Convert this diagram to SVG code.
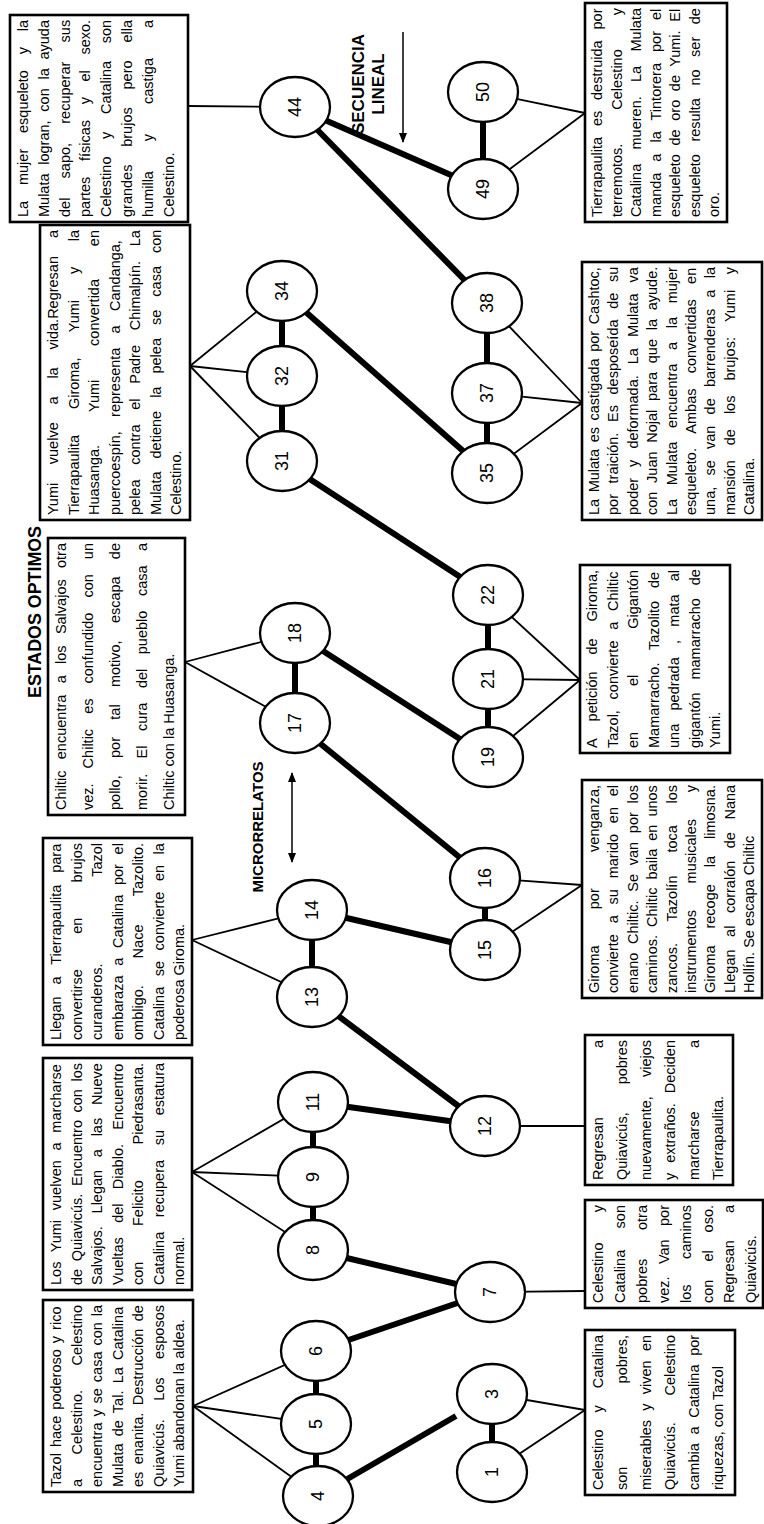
<svg xmlns="http://www.w3.org/2000/svg" width="764" height="1524" viewBox="0 0 764 1524">
<style>
text{font-family:"Liberation Sans",Arial,sans-serif;fill:#000}
.t{font-size:14.5px}
.e{text-anchor:end}
.n{font-size:18px;text-anchor:middle}
.h{font-weight:bold;text-anchor:middle}
.bx{fill:#fff;stroke:#000;stroke-width:2.6}
.c{stroke:#000;stroke-width:1.8;fill:none}
.k{stroke:#000;stroke-width:6;fill:none}
.nd{fill:#fff;stroke:#000;stroke-width:2.3}
</style>
<defs>
<marker id="ah" markerWidth="10" markerHeight="8" refX="9" refY="4" orient="auto-start-reverse" markerUnits="userSpaceOnUse"><path d="M0,0 L10,4 L0,8 z" fill="#000"/></marker>
</defs>
<rect x="0" y="0" width="764" height="1524" fill="#fff"/>
<g transform="translate(0,1524) rotate(-90)">

<g id="connectors">
<g class="c">
<line x1="1418" y1="188" x2="1417" y2="295"/>
<line x1="1158" y1="190" x2="1233" y2="282"/>
<line x1="1158" y1="190" x2="1148" y2="282"/>
<line x1="1158" y1="190" x2="1063" y2="282"/>
<line x1="862" y1="185" x2="891" y2="295"/>
<line x1="862" y1="185" x2="801" y2="295"/>
<line x1="584" y1="192" x2="614" y2="312"/>
<line x1="584" y1="192" x2="527" y2="313"/>
<line x1="352" y1="192" x2="422" y2="313"/>
<line x1="352" y1="192" x2="347" y2="313"/>
<line x1="352" y1="192" x2="274" y2="313"/>
<line x1="118" y1="193" x2="173" y2="316"/>
<line x1="118" y1="193" x2="100" y2="316"/>
<line x1="118" y1="193" x2="28" y2="318"/>
<line x1="1411" y1="585" x2="1432" y2="483"/>
<line x1="1411" y1="585" x2="1335" y2="483"/>
<line x1="1121" y1="582" x2="1221" y2="487"/>
<line x1="1121" y1="582" x2="1131" y2="487"/>
<line x1="1121" y1="582" x2="1051" y2="488"/>
<line x1="844" y1="580" x2="929" y2="488"/>
<line x1="844" y1="580" x2="845" y2="488"/>
<line x1="844" y1="580" x2="767" y2="488"/>
<line x1="639" y1="582" x2="646" y2="485"/>
<line x1="639" y1="582" x2="574" y2="485"/>
<line x1="398" y1="585" x2="398" y2="485"/>
<line x1="233" y1="585" x2="232" y2="490"/>
<line x1="114" y1="585" x2="130" y2="492"/>
<line x1="114" y1="585" x2="52" y2="492"/>
</g>
<g class="k">
<line x1="28" y1="316" x2="173" y2="316"/>
<line x1="52" y1="492" x2="130" y2="492"/>
<line x1="274" y1="313" x2="422" y2="313"/>
<line x1="527" y1="312" x2="614" y2="312"/>
<line x1="574" y1="485" x2="646" y2="485"/>
<line x1="801" y1="295" x2="891" y2="295"/>
<line x1="767" y1="488" x2="929" y2="488"/>
<line x1="1063" y1="282" x2="1233" y2="282"/>
<line x1="1051" y1="487" x2="1221" y2="487"/>
<line x1="1335" y1="483" x2="1432" y2="483"/>
<line x1="28" y1="318" x2="108" y2="456"/>
<line x1="173" y1="316" x2="232" y2="490"/>
<line x1="274" y1="313" x2="232" y2="490"/>
<line x1="422" y1="313" x2="398" y2="485"/>
<line x1="527" y1="313" x2="398" y2="485"/>
<line x1="614" y1="312" x2="574" y2="485"/>
<line x1="801" y1="295" x2="646" y2="485"/>
<line x1="891" y1="295" x2="767" y2="488"/>
<line x1="1063" y1="282" x2="929" y2="488"/>
<line x1="1233" y1="282" x2="1051" y2="488"/>
<line x1="1417" y1="295" x2="1221" y2="487"/>
<line x1="1417" y1="295" x2="1335" y2="483"/>
</g>
</g>

<g id="n4"><ellipse class="nd" cx="28" cy="318" rx="30" ry="35"/><text class="n" x="28" y="324">4</text></g>
<g id="n5"><ellipse class="nd" cx="100" cy="316" rx="30" ry="35"/><text class="n" x="100" y="322">5</text></g>
<g id="n6"><ellipse class="nd" cx="173" cy="316" rx="30" ry="35"/><text class="n" x="173" y="322">6</text></g>
<g id="n1"><ellipse class="nd" cx="52" cy="492" rx="30" ry="35"/><text class="n" x="52" y="498">1</text></g>
<g id="n3"><ellipse class="nd" cx="130" cy="492" rx="30" ry="35"/><text class="n" x="130" y="498">3</text></g>
<g id="n7"><ellipse class="nd" cx="232" cy="490" rx="30" ry="35"/><text class="n" x="232" y="496">7</text></g>
<g id="n8"><ellipse class="nd" cx="274" cy="313" rx="30" ry="35"/><text class="n" x="274" y="319">8</text></g>
<g id="n9"><ellipse class="nd" cx="347" cy="313" rx="30" ry="35"/><text class="n" x="347" y="319">9</text></g>
<g id="n11"><ellipse class="nd" cx="422" cy="313" rx="30" ry="35"/><text class="n" x="422" y="319">11</text></g>
<g id="n12"><ellipse class="nd" cx="398" cy="485" rx="30" ry="35"/><text class="n" x="398" y="491">12</text></g>
<g id="n13"><ellipse class="nd" cx="527" cy="312" rx="30" ry="35"/><text class="n" x="527" y="318">13</text></g>
<g id="n14"><ellipse class="nd" cx="614" cy="312" rx="30" ry="35"/><text class="n" x="614" y="318">14</text></g>
<g id="n15"><ellipse class="nd" cx="574" cy="485" rx="30" ry="35"/><text class="n" x="574" y="491">15</text></g>
<g id="n16"><ellipse class="nd" cx="646" cy="485" rx="30" ry="35"/><text class="n" x="646" y="491">16</text></g>
<g id="n17"><ellipse class="nd" cx="801" cy="295" rx="30" ry="35"/><text class="n" x="801" y="301">17</text></g>
<g id="n18"><ellipse class="nd" cx="891" cy="295" rx="30" ry="35"/><text class="n" x="891" y="301">18</text></g>
<g id="n19"><ellipse class="nd" cx="767" cy="488" rx="30" ry="35"/><text class="n" x="767" y="494">19</text></g>
<g id="n21"><ellipse class="nd" cx="845" cy="488" rx="30" ry="35"/><text class="n" x="845" y="494">21</text></g>
<g id="n22"><ellipse class="nd" cx="929" cy="488" rx="30" ry="35"/><text class="n" x="929" y="494">22</text></g>
<g id="n31"><ellipse class="nd" cx="1063" cy="282" rx="30" ry="35"/><text class="n" x="1063" y="288">31</text></g>
<g id="n32"><ellipse class="nd" cx="1148" cy="282" rx="30" ry="35"/><text class="n" x="1148" y="288">32</text></g>
<g id="n34"><ellipse class="nd" cx="1233" cy="282" rx="30" ry="35"/><text class="n" x="1233" y="288">34</text></g>
<g id="n35"><ellipse class="nd" cx="1051" cy="487" rx="30" ry="35"/><text class="n" x="1051" y="493">35</text></g>
<g id="n37"><ellipse class="nd" cx="1131" cy="487" rx="30" ry="35"/><text class="n" x="1131" y="493">37</text></g>
<g id="n38"><ellipse class="nd" cx="1221" cy="487" rx="30" ry="35"/><text class="n" x="1221" y="493">38</text></g>
<g id="n44"><ellipse class="nd" cx="1417" cy="295" rx="30" ry="35"/><text class="n" x="1417" y="301">44</text></g>
<g id="n49"><ellipse class="nd" cx="1335" cy="483" rx="30" ry="35"/><text class="n" x="1335" y="489">49</text></g>
<g id="n50"><ellipse class="nd" cx="1432" cy="483" rx="30" ry="35"/><text class="n" x="1432" y="489">50</text></g>

<g id="boxA" class="t">
<rect class="bx" x="1302" y="10" width="207" height="178"/>
<text x="1307" y="28" style="word-spacing:11.8px">La mujer esqueleto y la</text>
<text x="1307" y="48.8" style="word-spacing:4.7px">Mulata logran, con la ayuda</text>
<text x="1307" y="69.6" style="word-spacing:15.2px">del sapo, recuperar sus</text>
<text x="1307" y="90.4" style="word-spacing:11.6px">partes físicas y el sexo.</text>
<text x="1307" y="111.2" style="word-spacing:13.6px">Celestino y Catalina son</text>
<text x="1307" y="132" style="word-spacing:13.8px">grandes brujos pero ella</text>
<text x="1307" y="152.8" style="word-spacing:25.9px">humilla y castiga a</text>
<text x="1307" y="173.6">Celestino.</text>
</g>

<g id="boxB" class="t">
<rect class="bx" x="1004" y="40" width="295" height="150"/>
<text x="1009" y="58">Yumi</text><text x="1059.8" y="58">vuelve</text><text x="1119.5" y="58">a</text><text x="1145.4" y="58">la</text><text x="1174.5" y="58">vida.Regresan</text><text class="e" x="1294" y="58">a</text>
<text x="1009" y="78.5">Tierrapaulita</text><text x="1114.9" y="78.5">Giroma,</text><text x="1191.8" y="78.5">Yumi</text><text x="1250.1" y="78.5">y</text><text class="e" x="1294" y="78.5">la</text>
<text x="1009" y="99">Huasanga.</text><text x="1112.1" y="99">Yumi</text><text x="1178.1" y="99">convertida</text><text class="e" x="1294" y="99">en</text>
<text x="1009" y="119.5" style="word-spacing:10.2px">puercoespín, representa a Candanga,</text>
<text x="1009" y="140" style="word-spacing:10.7px">pelea contra el Padre Chimalpín. La</text>
<text x="1009" y="160.5" style="word-spacing:9px">Mulata detiene la pelea se casa con</text>
<text x="1009" y="181">Celestino.</text>
</g>

<g id="boxC" class="t">
<rect class="bx" x="709" y="48" width="277" height="137"/>
<text x="714" y="66" style="word-spacing:7.3px">Chiltic encuentra a los Salvajos otra</text>
<text x="714" y="93" style="word-spacing:11px">vez. Chiltic es confundido con un</text>
<text x="714" y="120">pollo,</text><text x="766" y="120">por</text><text x="804.3" y="120">tal</text><text x="836.9" y="120">motivo,</text><text x="900.9" y="120">escapa</text><text class="e" x="981" y="120">de</text>
<text x="714" y="147">morir.</text><text x="765.6" y="147">El</text><text x="793.1" y="147">cura</text><text x="835.9" y="147">del</text><text x="869.8" y="147">pueblo</text><text x="927.9" y="147">casa</text><text class="e" x="981" y="147">a</text>
<text x="714" y="174">Chiltic con la Huasanga.</text>
</g>

<g id="boxD" class="t">
<rect class="bx" x="479" y="43" width="207" height="149"/>
<text x="484" y="61" style="word-spacing:7.9px">Llegan a Tierrapaulita para</text>
<text x="484" y="81.5">convertirse</text><text x="590.2" y="81.5">en</text><text class="e" x="681" y="81.5">brujos</text>
<text x="484" y="102">curanderos.</text><text class="e" x="681" y="102">Tazol</text>
<text x="484" y="122.5" style="word-spacing:5.7px">embaraza a Catalina por el</text>
<text x="484" y="143">ombligo.</text><text x="565.6" y="143">Nace</text><text class="e" x="681" y="143">Tazolito.</text>
<text x="484" y="163.5" style="word-spacing:6.5px">Catalina se convierte en la</text>
<text x="484" y="184">poderosa Giroma.</text>
</g>

<g id="boxE" class="t">
<rect class="bx" x="234" y="43" width="232" height="149"/>
<text x="239" y="61" style="word-spacing:5.7px">Los Yumi vuelven a marcharse</text>
<text x="239" y="81.5" style="word-spacing:3.5px">de Quiavicús. Encuentro con los</text>
<text x="239" y="102" style="word-spacing:8.7px">Salvajos. Llegan a las Nueve</text>
<text x="239" y="122.5" style="word-spacing:10.3px">Vueltas del Diablo. Encuentro</text>
<text x="239" y="143">con</text><text x="298" y="143">Felicito</text><text class="e" x="461" y="143">Piedrasanta.</text>
<text x="239" y="163.5" style="word-spacing:10.6px">Catalina recupera su estatura</text>
<text x="239" y="184">normal.</text>
</g>

<g id="boxF" class="t">
<rect class="bx" x="32" y="43" width="192" height="150"/>
<text x="37" y="61" style="word-spacing:2px">Tazol hace poderoso y rico</text>
<text x="37" y="81.5">a</text><text x="69.6" y="81.5">Celestino.</text><text class="e" x="219" y="81.5">Celestino</text>
<text x="37" y="102" style="word-spacing:1.9px">encuentra y se casa con la</text>
<text x="37" y="122.5" style="word-spacing:3.2px">Mulata de Tal. La Catalina</text>
<text x="37" y="143" style="word-spacing:3.4px">es enanita. Destrucción de</text>
<text x="37" y="163.5">Quiavicús.</text><text x="123.2" y="163.5">Los</text><text class="e" x="219" y="163.5">esposos</text>
<text x="37" y="184">Yumi abandonan la aldea.</text>
</g>

<g id="boxG" class="t">
<rect class="bx" x="1302" y="585" width="219" height="142"/>
<text x="1307" y="602" style="word-spacing:6.8px">Tierrapaulita es destruida por</text>
<text x="1307" y="621.5">terremotos.</text><text x="1414.3" y="621.5">Celestino</text><text class="e" x="1516" y="621.5">y</text>
<text x="1307" y="641" style="word-spacing:10.3px">Catalina mueren. La Mulata</text>
<text x="1307" y="660.5" style="word-spacing:7px">manda a la Tintorera por el</text>
<text x="1307" y="680" style="word-spacing:4.6px">esqueleto de oro de Yumi. El</text>
<text x="1307" y="699.5" style="word-spacing:8.5px">esqueleto resulta no ser de</text>
<text x="1307" y="719">oro.</text>
</g>

<g id="boxH" class="t">
<rect class="bx" x="1004" y="582" width="258" height="180"/>
<text x="1009" y="599" style="word-spacing:2.5px">La Mulata es castigada por Cashtoc,</text>
<text x="1009" y="618.4" style="word-spacing:6.6px">por traición. Es desposeída de su</text>
<text x="1009" y="637.8" style="word-spacing:7px">poder y deformada. La Mulata va</text>
<text x="1009" y="657.2" style="word-spacing:4.7px">con Juan Nojal para que la ayude.</text>
<text x="1009" y="676.6" style="word-spacing:9.6px">La Mulata encuentra a la mujer</text>
<text x="1009" y="696" style="word-spacing:11.2px">esqueleto. Ambas convertidas en</text>
<text x="1009" y="715.4" style="word-spacing:7.2px">una, se van de barrenderas a la</text>
<text x="1009" y="734.8">mansión</text><text x="1078.8" y="734.8">de</text><text x="1109.9" y="734.8">los</text><text x="1143.4" y="734.8">brujos:</text><text x="1201.9" y="734.8">Yumi</text><text class="e" x="1257" y="734.8">y</text>
<text x="1009" y="754.2">Catalina.</text>
</g>

<g id="boxI" class="t">
<rect class="bx" x="771" y="580" width="188" height="150"/>
<text x="776" y="597">A</text><text x="802.6" y="597">petición</text><text x="869.5" y="597">de</text><text class="e" x="954" y="597">Giroma,</text>
<text x="776" y="617.5" style="word-spacing:6.7px">Tazol, convierte a Chiltic</text>
<text x="776" y="638">en</text><text x="838" y="638">el</text><text class="e" x="954" y="638">Gigantón</text>
<text x="776" y="658.5" style="word-spacing:8.8px">Mamarracho. Tazolito de</text>
<text x="776" y="679">una</text><text x="813.5" y="679">pedrada</text><text x="880" y="679">,</text><text x="897.3" y="679">mata</text><text class="e" x="954" y="679">al</text>
<text x="776" y="699.5" style="word-spacing:8.8px">gigantón mamarracho de</text>
<text x="776" y="720">Yumi.</text>
</g>

<g id="boxJ" class="t">
<rect class="bx" x="526" y="582" width="218" height="180"/>
<text x="531" y="599">Giroma</text><text x="614.8" y="599">por</text><text class="e" x="739" y="599">venganza,</text>
<text x="531" y="618.4" style="word-spacing:6.8px">convierte a su marido en el</text>
<text x="531" y="637.8" style="word-spacing:4.7px">enano Chiltic. Se van por los</text>
<text x="531" y="657.2" style="word-spacing:4px">caminos. Chiltic baila en unos</text>
<text x="531" y="676.6">zancos.</text><text x="602.5" y="676.6">Tazolín</text><text x="671.5" y="676.6">toca</text><text class="e" x="739" y="676.6">los</text>
<text x="531" y="696">instrumentos</text><text x="640.6" y="696">musicales</text><text class="e" x="739" y="696">y</text>
<text x="531" y="715.4" style="word-spacing:12.9px">Giroma recoge la limosna.</text>
<text x="531" y="734.8" style="word-spacing:8.5px">Llegan al corralón de Nana</text>
<text x="531" y="754.2">Hollín. Se escapa Chiltic</text>
</g>

<g id="boxK" class="t">
<rect class="bx" x="339" y="585" width="150" height="148"/>
<text x="344" y="603">Regresan</text><text class="e" x="484" y="603">a</text>
<text x="344" y="627">Quiavicús,</text><text class="e" x="484" y="627">pobres</text>
<text x="344" y="651">nuevamente,</text><text class="e" x="484" y="651">viejos</text>
<text x="344" y="675" style="word-spacing:5.9px">y extraños. Deciden</text>
<text x="344" y="699">marcharse</text><text class="e" x="484" y="699">a</text>
<text x="344" y="723">Tierrapaulita.</text>
</g>

<g id="boxL" class="t">
<rect class="bx" x="216" y="585" width="108" height="178"/>
<text x="221" y="603">Celestino</text><text class="e" x="319" y="603">y</text>
<text x="221" y="624.9">Catalina</text><text class="e" x="319" y="624.9">son</text>
<text x="221" y="646.8">pobres</text><text class="e" x="319" y="646.8">otra</text>
<text x="221" y="668.7">vez.</text><text x="259.9" y="668.7">Van</text><text class="e" x="319" y="668.7">por</text>
<text x="221" y="690.6">los</text><text class="e" x="319" y="690.6">caminos</text>
<text x="221" y="712.5">con</text><text x="262.4" y="712.5">el</text><text class="e" x="319" y="712.5">oso.</text>
<text x="221" y="734.4">Regresan</text><text class="e" x="319" y="734.4">a</text>
<text x="221" y="756.3">Quiavicús.</text>
</g>

<g id="boxM" class="t">
<rect class="bx" x="29" y="585" width="165" height="150"/>
<text x="34" y="603">Celestino</text><text x="111.4" y="603">y</text><text class="e" x="189" y="603">Catalina</text>
<text x="34" y="627">son</text><text class="e" x="189" y="627">pobres,</text>
<text x="34" y="651" style="word-spacing:5.2px">miserables y viven en</text>
<text x="34" y="675">Quiavicús.</text><text class="e" x="189" y="675">Celestino</text>
<text x="34" y="699" style="word-spacing:4.7px">cambia a Catalina por</text>
<text x="34" y="723">riquezas, con Tazol</text>
</g>

<g id="labels">
<text class="h" x="912" y="41" style="font-size:19px" textLength="172" lengthAdjust="spacingAndGlyphs">ESTADOS OPTIMOS</text>
<text class="h" x="697" y="263" style="font-size:15px">MICRORRELATOS</text>
<line x1="662" y1="292" x2="751" y2="292" stroke="#000" stroke-width="1.5" marker-start="url(#ah)" marker-end="url(#ah)"/>
<text class="h" x="1440" y="364" style="font-size:17px">SECUENCIA</text>
<text class="h" x="1440" y="384" style="font-size:17px">LINEAL</text>
<line x1="1492" y1="403" x2="1382" y2="403" stroke="#000" stroke-width="1.5" marker-end="url(#ah)"/>
</g>

</g>
</svg>
